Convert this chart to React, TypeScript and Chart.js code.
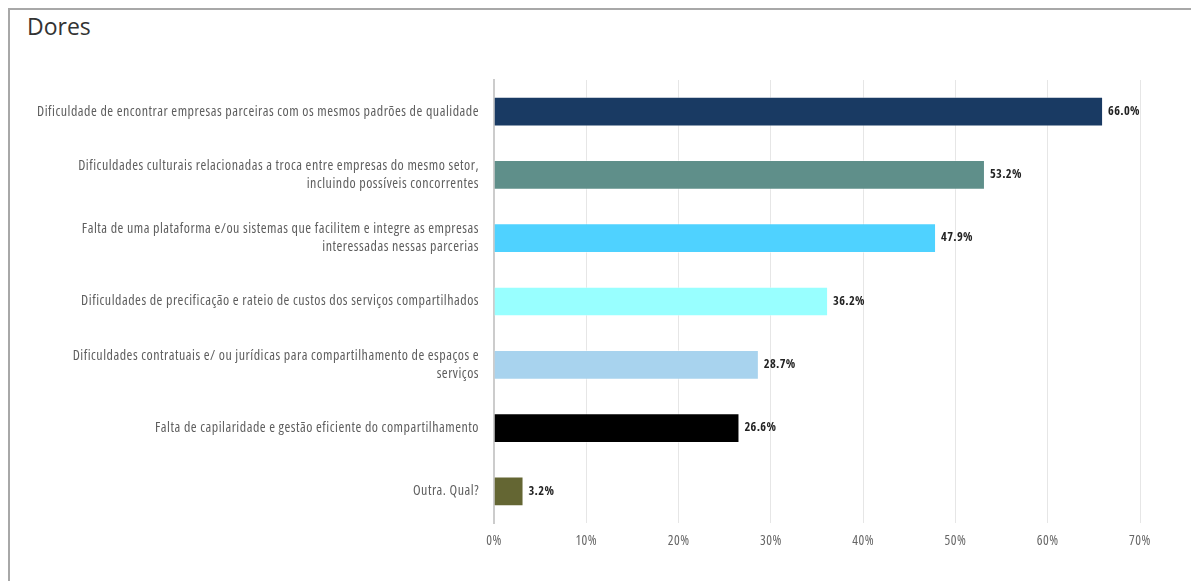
import React, { useEffect, useRef } from "react";
import { Chart, registerables } from "chart.js";

Chart.register(...registerables);

const categories: (string | string[])[] = [
  "Dificuldade de encontrar empresas parceiras com os mesmos padrões de qualidade",
  ["Dificuldades culturais relacionadas a troca entre empresas do mesmo setor,", "incluindo possíveis concorrentes"],
  ["Falta de uma plataforma e/ou sistemas que facilitem e integre as empresas", "interessadas nessas parcerias"],
  "Dificuldades de precificação e rateio de custos dos serviços compartilhados",
  ["Dificuldades contratuais e/ ou jurídicas para compartilhamento de espaços e", "serviços"],
  "Falta de capilaridade e gestão eficiente do compartilhamento",
  "Outra. Qual?",
];
const values = [66.0, 53.2, 47.9, 36.2, 28.7, 26.6, 3.2];
const barColors = ["#193a63", "#5f8f8a", "#4fd2ff", "#98ffff", "#a8d3ee", "#000000", "#646633"];
const xMin = 0;
const xMax = 70;
const xStep = 10;
const title = "Dores";

const FAMILY = "'Open Sans', 'Liberation Sans Narrow', sans-serif";
const BOLD_FAMILY = "'Open Sans Condensed', 'Open Sans', sans-serif";
const SPACING = "0.5px";

export default function App() {
  const ref = useRef<HTMLCanvasElement | null>(null);
  useEffect(() => {
    document.body.style.overflow = "hidden";
    const canvas = ref.current!;
    const spacingPlugin = {
      id: "letterSpacing",
      beforeInit(chart: any) {
        (chart.ctx as any).letterSpacing = SPACING;
      },
      beforeUpdate(chart: any) {
        (chart.ctx as any).letterSpacing = SPACING;
      },
      beforeDraw(chart: any) {
        (chart.ctx as any).letterSpacing = SPACING;
      },
    };
    const labelPlugin = {
      id: "valueLabels",
      afterDatasetsDraw(chart: any) {
        const ctx = chart.ctx;
        const meta = chart.getDatasetMeta(0);
        ctx.save();
        (ctx as any).letterSpacing = "0.3px";
        ctx.font = "bold condensed 12.5px " + BOLD_FAMILY;
        ctx.fillStyle = "#222222";
        ctx.textAlign = "left";
        ctx.textBaseline = "middle";
        meta.data.forEach((bar: any, i: number) => {
          ctx.fillText(values[i].toFixed(1) + "%", bar.x + 5, bar.y);
        });
        ctx.restore();
      },
    };
    const chart = new Chart(canvas, {
      type: "bar",
      data: {
        labels: categories,
        datasets: [
          {
            data: values,
            backgroundColor: barColors,
            borderColor: "rgba(255,255,255,0.45)",
            borderWidth: 1,
            barPercentage: 0.47,
            categoryPercentage: 1,
          },
        ],
      },
      options: {
        indexAxis: "y",
        responsive: false,
        animation: false,
        layout: { padding: { top: 70, right: 59, left: 0, bottom: 0 } },
        plugins: {
          legend: { display: false },
          tooltip: { enabled: false },
          title: { display: false },
        },
        scales: {
          x: {
            min: xMin,
            max: xMax,
            ticks: {
              stepSize: xStep,
              color: "#666666",
              padding: 10,
              font: { size: 13.5, family: FAMILY, weight: "400 condensed" as any },
              callback: (v: any) => v + "%",
            },
            grid: { color: "#e6e6e6", lineWidth: 1, drawTicks: false },
            border: { display: false },
            afterFit: (axis: any) => {
              axis.height = 58;
            },
          },
          y: {
            ticks: {
              color: "#5e5e5e",
              padding: 15,
              font: { size: 14, family: FAMILY, weight: "400 condensed" as any, lineHeight: 1.25 },
            },
            grid: { display: false, drawTicks: false },
            border: { display: true, color: "#cccccc", width: 2 },
            afterFit: (axis: any) => {
              axis.width = 484;
            },
          },
        },
      },
      plugins: [spacingPlugin, labelPlugin],
    });
    return () => chart.destroy();
  }, []);

  return (
    <div
      style={{
        position: "relative",
        boxSizing: "border-box",
        width: 1191,
        height: 573,
        borderTop: "2px solid #a8a8a8",
        borderLeft: "2px solid #a8a8a8",
        background: "#ffffff",
      }}
    >
      <div
        style={{
          position: "absolute",
          left: 17,
          top: 3,
          fontFamily: "'Open Sans', sans-serif",
          fontSize: 23,
          lineHeight: "26px",
          color: "#333333",
        }}
      >
        {title}
      </div>
      <canvas ref={ref} width={1189} height={571} style={{ position: "absolute", left: 0, top: 0 }} />
    </div>
  );
}
